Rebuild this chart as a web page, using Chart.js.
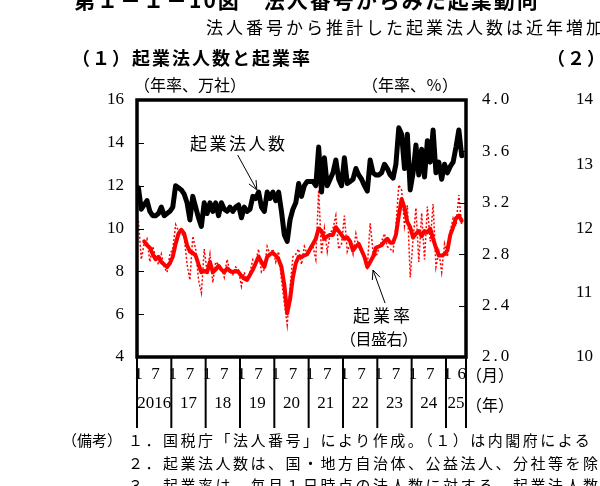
<!DOCTYPE html>
<html>
<head>
<meta charset="utf-8">
<script src="https://cdn.jsdelivr.net/npm/chart.js@4"></script>
<style>
  body { margin: 0; background: #fff; }
  #wrap { position: relative; width: 600px; height: 486px; overflow: hidden; font-family: "Noto Sans CJK JP", sans-serif; color: #000; }
  #wrap canvas { position: absolute; left: 0; top: 0; }
  .t { position: absolute; white-space: nowrap; line-height: 1; }
</style>
</head>
<body>
<div id="wrap">
  <canvas id="myChart" width="600" height="486"></canvas>

  <div class="t" style="left:74px;top:-11px;font-size:21px;font-weight:bold;letter-spacing:2px">第１－１－10図　法人番号からみた起業動向</div>
  <div class="t" style="left:206px;top:18px;font-size:17px;letter-spacing:3px">法人番号から推計した起業法人数は近年増加</div>
  <div class="t" style="left:72px;top:48px;font-size:18px;font-weight:bold;letter-spacing:2px">（１）起業法人数と起業率</div>
  <div class="t" style="left:547px;top:48px;font-size:18px;font-weight:bold;letter-spacing:2px">（２）</div>

  <div class="t" style="left:134px;top:76px;font-size:16px">（年率、万社）</div>
  <div class="t" style="left:362px;top:76px;font-size:16px">（年率、％）</div>

  <div class="t" style="left:190px;top:134px;font-size:17px;letter-spacing:2.5px">起業法人数</div>
  <div class="t" style="left:353px;top:306px;font-size:17px;letter-spacing:3px">起業率</div>
  <div class="t" style="left:340px;top:330px;font-size:16px;letter-spacing:-0.5px">（目盛右）</div>

  <div class="t" style="left:466px;top:366px;font-size:16px">（月）</div>
  <div class="t" style="left:466px;top:396px;font-size:16px">（年）</div>

  <div class="t" style="left:62px;top:432px;font-size:15px">（備考）</div>
  <div class="t" style="left:128px;top:432px;font-size:15px;letter-spacing:2.5px">１．国税庁「法人番号」により作成。（１）は内閣府による</div>
  <div class="t" style="left:128px;top:455px;font-size:15px;letter-spacing:2.5px">２．起業法人数は、国・地方自治体、公益法人、分社等を除</div>
  <div class="t" style="left:128px;top:477px;font-size:15px;letter-spacing:2.5px">３．起業率は、毎月１日時点の法人数に対する、起業法人数</div>
</div>

<script>
// 年と月（2016年1月〜2025年7月の軸、データは6月まで）
var years = [2016, 2017, 2018, 2019, 2020, 2021, 2022, 2023, 2024, 2025];
var yearLabels = ['2016', '17', '18', '19', '20', '21', '22', '23', '24', '25'];
var lastMonth = 7;

var categories = [];
years.forEach(function (yr) {
  var n = yr === 2025 ? lastMonth : 12;
  for (var m = 1; m <= n; m++) categories.push(yr + '-' + (m < 10 ? '0' + m : m));
});

var monthTicks = ['2016-01', '2016-07', '2017-01', '2017-07', '2018-01', '2018-07', '2019-01', '2019-07',
  '2020-01', '2020-07', '2021-01', '2021-07', '2022-01', '2022-07', '2023-01', '2023-07',
  '2024-01', '2024-07', '2025-01', '2025-06'];

// 起業法人数（年率、万社）
var startups = [
  11.9, 10.9, 11.1, 11.3, 10.8, 10.6, 10.6, 10.7, 11.0, 10.6, 10.7, 10.8,
  11.0, 12.0, 11.9, 11.8, 11.6, 11.2, 10.4, 11.5, 11.0, 10.5, 10.1, 11.2,
  10.7, 11.2, 10.8, 11.2, 10.6, 11.2, 10.9, 10.8, 11.0, 10.8, 11.0, 11.1,
  10.5, 11.0, 10.8, 10.9, 11.5, 11.4, 11.7, 11.0, 10.8, 11.7, 11.4, 11.7,
  11.3, 11.7, 10.8, 9.7, 9.4, 10.4, 10.9, 11.2, 12.1, 11.5, 12.0, 12.2,
  12.2, 12.2, 12.0, 13.8, 11.7, 13.3, 12.0, 12.3, 12.6, 13.2, 12.3, 12.0,
  13.3, 12.1, 12.2, 12.3, 12.8, 12.5, 12.3, 12.0, 11.75, 13.2, 12.6, 12.5,
  12.5, 12.6, 13.0, 12.8, 12.5, 12.35, 13.0, 14.7, 14.4, 12.8, 14.4, 11.8,
  12.6, 13.9, 12.5, 13.7, 12.4, 14.1, 13.1, 14.6, 12.6, 13.1, 12.3, 13.0,
  12.6, 12.9, 13.1, 13.8, 14.6, 13.4
];

// 起業率（年率、％）太線
var rateAvg = [
  null, null, 2.90, 2.87, 2.85, 2.80, 2.76, 2.78, 2.74, 2.72, 2.70, 2.73,
  2.78, 2.88, 2.96, 2.99, 2.96, 2.87, 2.82, 2.81, 2.79, 2.72, 2.66, 2.67,
  2.66, 2.74, 2.66, 2.68, 2.71, 2.68, 2.66, 2.69, 2.67, 2.66, 2.67, 2.66,
  2.63, 2.61, 2.60, 2.64, 2.68, 2.73, 2.78, 2.74, 2.70, 2.78, 2.80, 2.81,
  2.79, 2.76, 2.70, 2.56, 2.34, 2.45, 2.62, 2.73, 2.78, 2.78, 2.79, 2.80,
  2.84, 2.88, 2.92, 3.00, 2.98, 2.92, 2.94, 2.95, 2.95, 3.01, 2.98, 2.95,
  2.92, 2.93, 2.90, 2.83, 2.86, 2.88, 2.83, 2.78, 2.70, 2.74, 2.78, 2.85,
  2.86, 2.87, 2.90, 2.92, 2.89, 2.89, 2.95, 3.10, 3.23, 3.16, 3.05, 3.01,
  2.93, 2.96, 2.98, 2.94, 2.98, 2.97, 3.00, 2.92, 2.85, 2.79, 2.79, 2.80,
  2.83, 2.95, 3.01, 3.08, 3.10, 3.06
];

// 起業率（月次）点線
var rateMonthly = [
  3.06, 2.76, 2.88, 2.92, 2.74, 2.86, 2.78, 2.72, 2.80, 2.70, 2.66, 2.80,
  2.84, 3.03, 2.98, 2.96, 2.94, 2.72, 2.60, 2.94, 2.84, 2.60, 2.50, 2.84,
  2.66, 2.80, 2.58, 2.74, 2.72, 2.70, 2.62, 2.76, 2.66, 2.64, 2.70, 2.68,
  2.55, 2.66, 2.60, 2.66, 2.76, 2.74, 2.84, 2.66, 2.68, 2.86, 2.80, 2.84,
  2.74, 2.82, 2.60, 2.42, 2.25, 2.55, 2.78, 2.80, 2.84, 2.72, 2.86, 2.80,
  2.86, 2.86, 2.76, 3.30, 2.80, 3.00, 2.82, 2.96, 3.00, 3.10, 2.84, 2.88,
  3.10, 2.82, 2.88, 2.80, 2.96, 2.86, 2.82, 2.76, 2.70, 3.04, 2.82, 2.78,
  2.84, 2.90, 2.96, 2.86, 2.84, 2.82, 3.02, 3.34, 3.30, 3.02, 3.18, 2.62,
  2.92, 3.16, 2.74, 3.12, 2.76, 3.17, 2.90, 3.19, 2.70, 2.82, 2.66, 2.88,
  2.78, 2.98, 3.08, 3.02, 3.26, 3.02
];

var leftTicks = [16, 14, 12, 10, 8, 6, 4];
var rightTicks = [4.0, 3.6, 3.2, 2.8, 2.4, 2.0];
var panel2Ticks = [14, 13, 12, 11, 10];

// 吹き出しの矢印（月の位置, 値）
var callouts = [
  { axis: 'y', from: [34.7, 13.43], to: [41.4, 11.8] },
  { axis: 'y2', from: [86.2, 2.42], to: [82, 2.677] }
];

var numFont = '17px "Liberation Serif", "DejaVu Serif", serif';

function arrow(ctx, x0, y0, x1, y1) {
  var ang = Math.atan2(y1 - y0, x1 - x0), len = 10, sp = 0.42;
  ctx.beginPath();
  ctx.moveTo(x0, y0);
  ctx.lineTo(x1, y1);
  ctx.moveTo(x1 - len * Math.cos(ang - sp), y1 - len * Math.sin(ang - sp));
  ctx.lineTo(x1, y1);
  ctx.lineTo(x1 - len * Math.cos(ang + sp), y1 - len * Math.sin(ang + sp));
  ctx.stroke();
}

var framePlugin = {
  id: 'framePlugin',
  afterDatasetsDraw: function (chart) {
    var ctx = chart.ctx, a = chart.chartArea, s = chart.scales;
    ctx.save();
    ctx.strokeStyle = '#000';
    ctx.fillStyle = '#000';

    // 内向きの目盛り
    ctx.lineWidth = 1;
    leftTicks.slice(1, -1).forEach(function (v) {
      var p = Math.round(s.y.getPixelForValue(v)) + 0.5;
      ctx.beginPath(); ctx.moveTo(a.left, p); ctx.lineTo(a.left + 7, p); ctx.stroke();
    });
    rightTicks.slice(1, -1).forEach(function (v) {
      var p = Math.round(s.y2.getPixelForValue(v)) + 0.5;
      ctx.beginPath(); ctx.moveTo(a.right, p); ctx.lineTo(a.right - 7, p); ctx.stroke();
    });

    // 枠
    ctx.lineWidth = 3.5;
    ctx.strokeRect(a.left, a.top, a.right - a.left, a.bottom - a.top);

    // 目盛りラベル
    ctx.font = numFont;
    ctx.textBaseline = 'middle';
    ctx.textAlign = 'right';
    leftTicks.forEach(function (v) { ctx.fillText(String(v), 124, s.y.getPixelForValue(v)); });
    ctx.textAlign = 'left';
    ctx.letterSpacing = '3px';
    rightTicks.forEach(function (v) { ctx.fillText(v.toFixed(1), 482, s.y2.getPixelForValue(v)); });
    ctx.letterSpacing = '0px';
    panel2Ticks.forEach(function (v) { ctx.fillText(String(v), 576, s.y3.getPixelForValue(v)); });

    // 年の区切り線
    var step = s.x.getPixelForValue(1) - s.x.getPixelForValue(0);
    var bounds = years.map(function (yr) {
      return s.x.getPixelForValue(categories.indexOf(yr + '-01')) - step / 2;
    });
    bounds.push(a.right);
    ctx.lineWidth = 2;
    bounds.forEach(function (px) {
      ctx.beginPath(); ctx.moveTo(px, a.bottom); ctx.lineTo(px, 428); ctx.stroke();
    });

    // 月・年ラベル
    ctx.textAlign = 'center';
    monthTicks.forEach(function (c) {
      ctx.fillText(String(+c.slice(5)), s.x.getPixelForValue(categories.indexOf(c)), 375);
    });
    yearLabels.forEach(function (lab, k) {
      ctx.fillText(lab, (bounds[k] + bounds[k + 1]) / 2, 404);
    });

    // 矢印
    ctx.lineWidth = 1;
    callouts.forEach(function (c) {
      var ys = s[c.axis];
      arrow(ctx, s.x.getPixelForValue(c.from[0]), ys.getPixelForValue(c.from[1]),
        s.x.getPixelForValue(c.to[0]), ys.getPixelForValue(c.to[1]));
    });
    ctx.restore();
  }
};

var ctx = document.getElementById('myChart').getContext('2d');

var myChart = new Chart(ctx, {
  type: 'line',
  data: {
    labels: categories,
    datasets: [
      {
        label: '起業法人数',
        data: startups,
        yAxisID: 'y',
        borderColor: '#000000',
        borderWidth: 5,
        borderJoinStyle: 'round',
        borderCapStyle: 'round',
        pointRadius: 0,
        tension: 0
      },
      {
        label: '起業率',
        data: rateAvg,
        yAxisID: 'y2',
        borderColor: '#ff0000',
        borderWidth: 4,
        borderJoinStyle: 'round',
        borderCapStyle: 'round',
        pointRadius: 0,
        tension: 0
      },
      {
        label: '起業率（月次）',
        data: rateMonthly,
        yAxisID: 'y2',
        borderColor: '#ff0000',
        borderWidth: 1.5,
        borderDash: [2, 2],
        pointRadius: 0,
        tension: 0
      }
    ]
  },
  options: {
    responsive: false,
    animation: false,
    layout: { padding: { left: 137, top: 100, right: 134, bottom: 129 } },
    scales: {
      x: { type: 'category', offset: true, display: false },
      y: { min: 4, max: 16, display: false },
      y2: { min: 2, max: 4, display: false, position: 'right' },
      y3: { min: 10, max: 14, display: false, position: 'right' }
    },
    plugins: {
      legend: { display: false },
      tooltip: { enabled: false }
    }
  },
  plugins: [framePlugin]
});
</script>
</body>
</html>
